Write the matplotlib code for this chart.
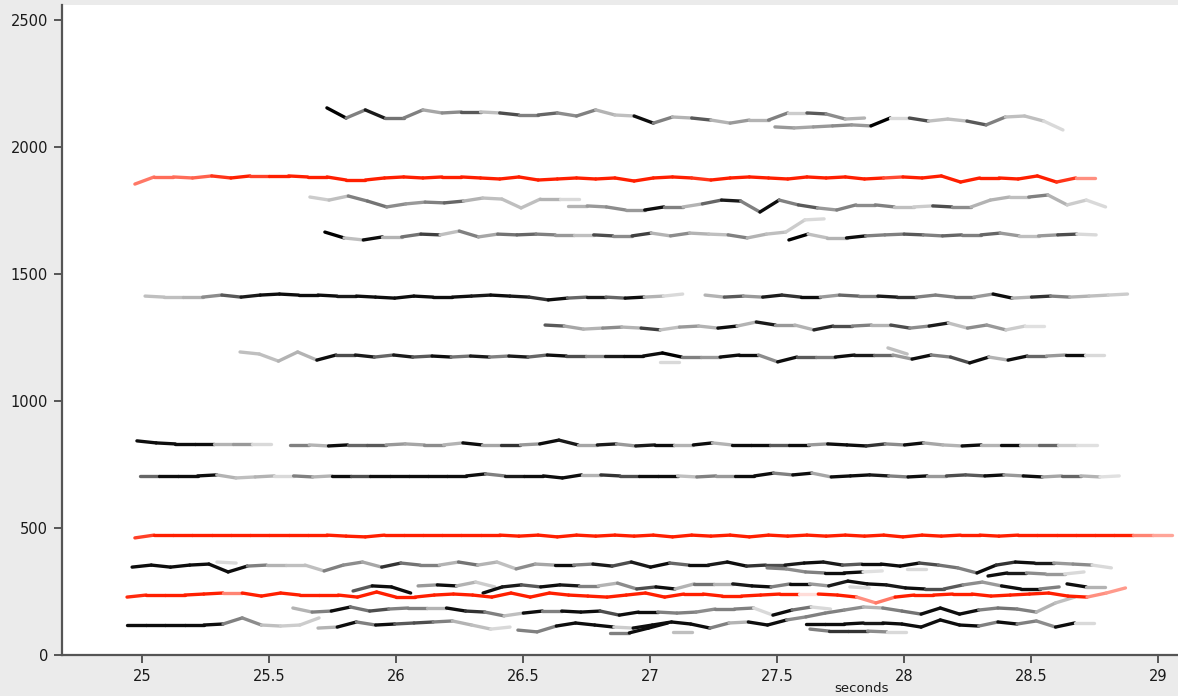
import matplotlib
matplotlib.use("Agg")
import matplotlib.pyplot as plt
from matplotlib.collections import LineCollection
import numpy as np

# ---------------- data ----------------
DT = 0.0756  # frame hop (seconds) between track points

x_ticks = [25, 25.5, 26, 26.5, 27, 27.5, 28, 28.5, 29]
x_tick_labels = ["25", "25.5", "26", "26.5", "27", "27.5", "28", "28.5", "29"]
y_ticks = [0, 500, 1000, 1500, 2000, 2500]
y_tick_labels = ["0", "500", "1000", "1500", "2000", "2500"]
x_label = "seconds"

# grey partial tracks: start time, frequency per frame (Hz), grey level per segment (0 = black)
a1_t0 = 25.728
a1_hz = [2154, 2114, 2146, 2114, 2114, 2146, 2134, 2138, 2138, 2134, 2126, 2126, 2134, 2122, 2146,
         2126, 2122, 2094, 2118, 2114, 2106, 2094, 2106, 2106, 2134, 2134, 2130, 2110, 2114]
a1_gray = [0.0, 0.5, 0.1, 0.45, 0.5, 0.65, 0.55, 0.35, 0.75, 0.3, 0.5, 0.4, 0.55, 0.5, 0.7,
           0.75, 0.05, 0.5, 0.7, 0.35, 0.7, 0.6, 0.7, 0.5, 0.8, 0.35, 0.55, 0.7]

a2_t0 = 27.492
a2_hz = [2079, 2075, 2079, 2083, 2087, 2083, 2114, 2114, 2102, 2110, 2102, 2087, 2118, 2122, 2102, 2067]
a2_gray = [0.6, 0.65, 0.6, 0.55, 0.6, 0.0, 0.85, 0.3, 0.75, 0.75, 0.35, 0.5, 0.75, 0.75, 0.85]

b1_t0 = 25.661
b1_hz = [1803, 1791, 1807, 1787, 1764, 1776, 1783, 1780, 1787, 1799, 1795, 1760, 1795, 1795, 1795]
b1_gray = [0.8, 0.75, 0.5, 0.45, 0.55, 0.6, 0.5, 0.4, 0.7, 0.75, 0.75, 0.75, 0.7, 0.85]

b2_t0 = 26.677
b2_hz = [1768, 1768, 1764, 1752, 1752, 1764, 1764, 1776, 1791, 1787, 1744, 1791, 1772, 1760, 1752,
         1772, 1772, 1764, 1764, 1768, 1764, 1764, 1791, 1803, 1803, 1811, 1772, 1791, 1764]
b2_gray = [0.7, 0.6, 0.55, 0.6, 0.05, 0.5, 0.7, 0.4, 0.1, 0.5, 0.05, 0.5, 0.35, 0.6, 0.5,
           0.55, 0.5, 0.75, 0.8, 0.3, 0.55, 0.7, 0.7, 0.75, 0.5, 0.7, 0.8, 0.85]

c1_t0 = 25.720
c1_hz = [1665, 1642, 1634, 1646, 1646, 1657, 1654, 1669, 1646, 1657, 1654, 1657, 1654, 1654,
         1654, 1650, 1650, 1661, 1650, 1661, 1657, 1654, 1642, 1657, 1665, 1713, 1717]
c1_gray = [0.0, 0.75, 0.05, 0.7, 0.45, 0.25, 0.75, 0.5, 0.65, 0.45, 0.4, 0.5, 0.6, 0.75, 0.3,
           0.55, 0.25, 0.7, 0.55, 0.7, 0.75, 0.5, 0.7, 0.75, 0.8, 0.85]

c2_t0 = 27.547
c2_hz = [1634, 1657, 1642, 1642, 1650, 1654, 1657, 1654, 1650, 1654, 1654, 1661, 1650, 1650, 1654, 1657, 1654]
c2_gray = [0.0, 0.75, 0.7, 0.05, 0.5, 0.5, 0.35, 0.5, 0.4, 0.5, 0.4, 0.6, 0.75, 0.6, 0.3, 0.85]

d1_t0 = 25.012
d1_hz = [1413, 1409, 1409, 1409, 1417, 1409, 1417, 1421, 1417, 1417, 1413, 1413, 1409, 1405, 1413,
         1409, 1409, 1413, 1417, 1413, 1409, 1398, 1405, 1409, 1409, 1405, 1409, 1413, 1421]
d1_gray = [0.75, 0.75, 0.7, 0.55, 0.35, 0.1, 0.05, 0.05, 0.05, 0.05, 0.1, 0.05, 0.05, 0.05,
           0.05, 0.05, 0.05, 0.1, 0.05, 0.1, 0.2, 0.05, 0.4, 0.1, 0.4, 0.05, 0.7, 0.85]

d2_t0 = 27.217
d2_hz = [1417, 1409, 1413, 1409, 1417, 1409, 1409, 1417, 1413, 1413, 1409, 1409, 1417, 1409, 1409,
         1421, 1405, 1409, 1413, 1409, 1413, 1417, 1421]
d2_gray = [0.7, 0.35, 0.6, 0.1, 0.2, 0.05, 0.6, 0.4, 0.5, 0.1, 0.2, 0.5, 0.5, 0.45, 0.6,
           0.05, 0.7, 0.2, 0.5, 0.7, 0.75, 0.8]

e_t0 = 26.587
e_hz = [1299, 1295, 1283, 1287, 1291, 1287, 1280, 1291, 1295, 1287, 1295, 1311, 1299, 1299,
        1280, 1295, 1295, 1299, 1299, 1287, 1295, 1307, 1287, 1299, 1280, 1295, 1295]
e_gray = [0.35, 0.65, 0.7, 0.55, 0.7, 0.25, 0.75, 0.6, 0.7, 0.05, 0.7, 0.1, 0.6, 0.7, 0.15,
          0.3, 0.5, 0.7, 0.3, 0.55, 0.1, 0.75, 0.55, 0.6, 0.8, 0.88]

f_t0 = 25.386
f_hz = [1193, 1185, 1157, 1193, 1161, 1181, 1181, 1173, 1181, 1173, 1177, 1173, 1177, 1173, 1177,
        1173, 1181, 1177, 1177, 1177, 1177, 1177, 1189, 1173, 1173, 1173, 1181, 1181, 1154, 1173,
        1173, 1173, 1181, 1181, 1181, 1165, 1181, 1173, 1150, 1173, 1161, 1177, 1177, 1181, 1181, 1181]
f_gray = [0.75, 0.75, 0.7, 0.7, 0.05, 0.3, 0.1, 0.4, 0.1, 0.35, 0.05, 0.45, 0.1, 0.5, 0.1,
          0.4, 0.05, 0.3, 0.55, 0.1, 0.05, 0.05, 0.0, 0.5, 0.6, 0.05, 0.05, 0.55, 0.05, 0.35,
          0.5, 0.05, 0.1, 0.4, 0.6, 0.05, 0.5, 0.3, 0.05, 0.7, 0.05, 0.4, 0.6, 0.05, 0.85]

g1_t0 = 24.980
g1_hz = [843, 835, 831, 831, 831, 831, 831, 831]
g1_gray = [0.05, 0.05, 0.05, 0.05, 0.7, 0.6, 0.85]

g2_t0 = 25.583
g2_hz = [827, 827, 823, 827, 827, 827, 831, 827, 827, 835, 827, 827, 827, 831, 846, 827, 827, 831,
         823, 827, 827, 827, 835, 827, 827, 827, 827, 827, 831, 827, 823, 831, 827, 835, 827, 823,
         827, 827, 827, 827, 827, 827, 827]
g2_gray = [0.5, 0.7, 0.05, 0.4, 0.35, 0.6, 0.65, 0.55, 0.7, 0.05, 0.65, 0.2, 0.6, 0.05, 0.1,
           0.65, 0.1, 0.6, 0.1, 0.05, 0.7, 0.05, 0.7, 0.05, 0.05, 0.35, 0.05, 0.6, 0.05, 0.05,
           0.2, 0.55, 0.05, 0.65, 0.7, 0.05, 0.7, 0.05, 0.7, 0.4, 0.8, 0.88]

h_t0 = 24.992
h_hz = [705, 705, 705, 705, 709, 697, 701, 705, 705, 701, 705, 705, 705, 705, 705, 705, 705, 705,
        713, 705, 705, 705, 697, 709, 709, 705, 705, 705, 705, 701, 705, 705, 705, 716, 709, 716,
        701, 705, 709, 705, 701, 705, 705, 709, 705, 709, 705, 701, 705, 705, 701, 705]
h_gray = [0.4, 0.05, 0.05, 0.05, 0.7, 0.75, 0.7, 0.85, 0.5, 0.7, 0.05, 0.3, 0.05, 0.05, 0.05,
          0.05, 0.05, 0.05, 0.5, 0.1, 0.05, 0.05, 0.05, 0.7, 0.2, 0.3, 0.05, 0.05, 0.75, 0.5,
          0.6, 0.05, 0.05, 0.5, 0.05, 0.65, 0.05, 0.05, 0.1, 0.5, 0.05, 0.6, 0.3, 0.35, 0.05,
          0.6, 0.05, 0.65, 0.4, 0.7, 0.88]

i_t0 = 24.961
i_hz = [346, 354, 346, 354, 358, 327, 350, 354, 354, 354, 331, 354, 366, 346, 362, 354, 354, 366,
        354, 366, 339, 358, 354, 354, 358, 350, 366, 346, 362, 354, 354, 366, 350, 354, 354, 362,
        366, 354, 358, 358, 350, 362, 354, 343, 323, 354, 366, 362, 362, 358, 354, 343]
i_gray = [0.05, 0.05, 0.05, 0.05, 0.05, 0.05, 0.5, 0.7, 0.75, 0.75, 0.5, 0.55, 0.65, 0.2, 0.45,
          0.5, 0.7, 0.45, 0.7, 0.75, 0.55, 0.65, 0.05, 0.5, 0.1, 0.3, 0.1, 0.05, 0.4, 0.05,
          0.1, 0.05, 0.2, 0.3, 0.1, 0.05, 0.1, 0.35, 0.05, 0.05, 0.05, 0.3, 0.45, 0.5, 0.05,
          0.2, 0.05, 0.1, 0.6, 0.55, 0.85]

i2_t0 = 28.331
i2_hz = [311, 323, 323, 319, 319, 327]
i2_gray = [0.05, 0.1, 0.55, 0.6, 0.85]

i3_t0 = 27.461
i3_hz = [343, 339, 327, 323, 323, 327, 331]
i3_gray = [0.5, 0.55, 0.5, 0.05, 0.05, 0.88]

ja_t0 = 25.831
ja_hz = [252, 272, 268, 244]
ja_gray = [0.35, 0.05, 0.05]

jb_t0 = 26.087
jb_hz = [272, 276, 272, 287, 268]
jb_gray = [0.6, 0.05, 0.7, 0.8]

jc_t0 = 26.343
jc_hz = [244, 268, 276, 268, 276, 272, 272, 283, 260, 268, 260, 280, 280, 280, 272, 268, 280, 280,
         272, 291, 280, 276, 264, 260, 260, 276, 287, 272, 260, 260, 268]
jc_gray = [0.05, 0.1, 0.35, 0.05, 0.1, 0.5, 0.7, 0.55, 0.3, 0.05, 0.7, 0.45, 0.7, 0.1, 0.05,
           0.5, 0.05, 0.6, 0.1, 0.05, 0.05, 0.1, 0.05, 0.3, 0.35, 0.55, 0.6, 0.05, 0.05, 0.5]

jd_t0 = 28.642
jd_hz = [280, 268, 268]
jd_gray = [0.05, 0.7]

k_t0 = 25.594
k_hz = [185, 169, 173, 189, 173, 181, 185, 185, 185, 173, 169, 154, 165, 173, 173, 169, 173, 157,
        169, 169, 165, 169, 181, 181, 185, 157, 177, 189, 181]
k_gray = [0.7, 0.5, 0.05, 0.45, 0.3, 0.5, 0.5, 0.7, 0.05, 0.2, 0.5, 0.75, 0.05, 0.5, 0.05,
          0.05, 0.3, 0.05, 0.05, 0.5, 0.5, 0.55, 0.5, 0.5, 0.85, 0.05, 0.45, 0.85]

l1_t0 = 24.941
l1_hz = [118, 118, 118, 118, 118, 122, 146, 118, 114, 118, 146]
l1_gray = [0.05, 0.05, 0.05, 0.05, 0.05, 0.5, 0.55, 0.75, 0.8, 0.8]

l2_t0 = 25.693
l2_hz = [106, 110, 130, 118, 122, 126, 130, 134, 118, 102, 110]
l2_gray = [0.7, 0.05, 0.5, 0.05, 0.35, 0.3, 0.5, 0.7, 0.75, 0.85]

l3_t0 = 26.480
l3_hz = [98, 91, 114, 126, 118, 110, 106, 118, 130, 122, 106, 126, 130, 118, 138, 150, 165, 177,
         189, 185, 173, 161, 185, 161, 177, 185, 181, 169, 205, 228]
l3_gray = [0.5, 0.5, 0.05, 0.05, 0.05, 0.8, 0.05, 0.05, 0.05, 0.05, 0.5, 0.7, 0.05, 0.05, 0.55,
           0.5, 0.5, 0.55, 0.7, 0.5, 0.45, 0.05, 0.05, 0.05, 0.5, 0.45, 0.5, 0.7, 0.75]

l4_t0 = 27.614
l4_hz = [122, 122, 122, 126, 126, 122, 110, 138, 118, 114, 130, 122, 134, 110, 126, 126]
l4_gray = [0.05, 0.05, 0.05, 0.1, 0.05, 0.05, 0.05, 0.05, 0.05, 0.5, 0.05, 0.5, 0.55, 0.05, 0.85]

l5_t0 = 27.630
l5_hz = [102, 94, 94, 94, 91, 91]
l5_gray = [0.5, 0.2, 0.2, 0.55, 0.85]

l6_t0 = 26.843
l6_hz = [87, 87, 106, 126]
l6_gray = [0.5, 0.05, 0.05]

# short faint fragments
p1_t0, p1_hz, p1_gray = 25.295, [366, 362], [0.85]
p2_t0, p2_hz, p2_gray = 27.937, [1209, 1185], [0.75]
p3_t0, p3_hz, p3_gray = 27.039, [1154, 1154], [0.85]
p4_t0, p4_hz, p4_gray = 28.012, [339, 339], [0.85]
p5_t0, p5_hz, p5_gray = 27.787, [268, 264], [0.85]
p7_t0, p7_hz, p7_gray = 27.091, [91, 91], [0.75]

# red (fundamental) tracks: start time, Hz per frame, colour strength per segment (1 = full red)
r1_t0 = 24.972
r1_hz = [1854, 1882, 1882, 1878, 1886, 1878, 1886, 1886, 1886, 1882, 1882, 1870, 1870, 1878, 1882,
         1878, 1882, 1882, 1878, 1874, 1882, 1870, 1874, 1878, 1874, 1878, 1866, 1878, 1882, 1878,
         1870, 1878, 1882, 1878, 1874, 1882, 1878, 1882, 1874, 1878, 1882, 1878, 1886, 1862, 1878,
         1878, 1874, 1886, 1862, 1878, 1878]
r1_str = [0.6, 0.65, 0.65, 0.7, 0.9, 1, 0.85, 1, 1, 1, 1, 1, 1, 1, 1, 1, 1, 1, 1, 1,
          1, 1, 1, 1, 1, 1, 1, 1, 1, 0.9, 1, 1, 1, 1, 1, 1, 1, 1, 1, 0.8,
          1, 1, 1, 1, 1, 1, 1, 1, 0.9, 0.5]

r2_t0 = 24.972
r2_hz = [461, 472, 472, 472, 472, 472, 472, 472, 472, 472, 472, 468, 465, 472, 472, 472, 472, 472,
         472, 472, 468, 472, 465, 472, 468, 472, 468, 472, 465, 472, 468, 472, 465, 472, 468, 472,
         468, 472, 468, 472, 465, 472, 468, 472, 472, 468, 472, 472, 472, 472, 472, 472, 472, 472, 472]
r2_str = [0.85, 1, 1, 1, 1, 1, 1, 1, 1, 1, 1, 1, 1, 1, 1, 1, 1, 1, 1, 1,
          1, 1, 1, 1, 1, 1, 1, 1, 1, 1, 1, 1, 1, 1, 1, 1, 1, 1, 1, 1,
          1, 1, 1, 1, 1, 1, 1, 1, 1, 1, 1, 1, 0.55, 0.4]

r3_t0 = 24.941
r3_hz = [228, 236, 236, 236, 240, 244, 244, 232, 244, 236, 236, 236, 228, 248, 228, 228, 236, 240,
         236, 228, 244, 228, 244, 236, 232, 228, 236, 244, 228, 240, 240, 232, 232, 236, 240, 240,
         240, 236, 228, 205, 228, 236, 236, 240, 240, 232, 236, 240, 244, 232, 228, 244, 264]
r3_str = [0.95, 1, 1, 1, 1, 0.55, 1, 1, 1, 1, 1, 1, 1, 1, 1, 1, 1, 1, 1, 1,
          1, 1, 1, 1, 1, 1, 1, 1, 1, 1, 1, 1, 1, 1, 1, 0.15, 1, 1, 0.5, 0.6,
          1, 1, 1, 1, 1, 1, 1, 1, 1, 1, 0.5, 0.45]

gray_tracks = [
    (a1_t0, a1_hz, a1_gray), (a2_t0, a2_hz, a2_gray),
    (b1_t0, b1_hz, b1_gray), (b2_t0, b2_hz, b2_gray),
    (c1_t0, c1_hz, c1_gray), (c2_t0, c2_hz, c2_gray),
    (d1_t0, d1_hz, d1_gray), (d2_t0, d2_hz, d2_gray),
    (e_t0, e_hz, e_gray), (f_t0, f_hz, f_gray),
    (g1_t0, g1_hz, g1_gray), (g2_t0, g2_hz, g2_gray),
    (h_t0, h_hz, h_gray),
    (i_t0, i_hz, i_gray), (i2_t0, i2_hz, i2_gray), (i3_t0, i3_hz, i3_gray),
    (ja_t0, ja_hz, ja_gray), (jb_t0, jb_hz, jb_gray), (jc_t0, jc_hz, jc_gray), (jd_t0, jd_hz, jd_gray),
    (k_t0, k_hz, k_gray),
    (l1_t0, l1_hz, l1_gray), (l2_t0, l2_hz, l2_gray), (l3_t0, l3_hz, l3_gray),
    (l4_t0, l4_hz, l4_gray), (l5_t0, l5_hz, l5_gray), (l6_t0, l6_hz, l6_gray),
    (p1_t0, p1_hz, p1_gray), (p2_t0, p2_hz, p2_gray), (p3_t0, p3_hz, p3_gray),
    (p4_t0, p4_hz, p4_gray), (p5_t0, p5_hz, p5_gray), (p7_t0, p7_hz, p7_gray),
]
red_tracks = [(r1_t0, r1_hz, r1_str), (r2_t0, r2_hz, r2_str), (r3_t0, r3_hz, r3_str)]

# ---------------- drawing ----------------
RED = np.array([1.0, 0.12, 0.0])
W, H = 1178, 696

fig = plt.figure(figsize=(W / 100, H / 100), dpi=100, facecolor="#ebebeb")
ax = fig.add_axes([62 / W, 41 / H, 1116 / W, 650 / H])
ax.set_facecolor("white")
ax.set_xlim(24.685, 29.079)
ax.set_ylim(0, 2559)


def segments(t0, hz):
    t = t0 + DT * np.arange(len(hz))
    pts = np.column_stack([t, np.asarray(hz, dtype=float)])
    return np.stack([pts[:-1], pts[1:]], axis=1)


for t0, hz, shade in gray_tracks:
    segs = segments(t0, hz)
    cols = [(g, g, g) for g in shade]
    ax.add_collection(LineCollection(segs, colors=cols, linewidths=2.4,
                                     capstyle="round", joinstyle="round", zorder=2))

for t0, hz, strength in red_tracks:
    segs = segments(t0, hz)
    cols = [tuple(1 - s * (1 - RED)) for s in strength]
    ax.add_collection(LineCollection(segs, colors=cols, linewidths=2.4,
                                     capstyle="round", joinstyle="round", zorder=3))

for side in ("top", "right"):
    ax.spines[side].set_visible(False)
for side in ("left", "bottom"):
    ax.spines[side].set_color("#555555")
    ax.spines[side].set_linewidth(1.6)

ax.set_xticks(x_ticks)
ax.set_xticklabels(x_tick_labels)
ax.set_yticks(y_ticks)
ax.set_yticklabels(y_tick_labels)
ax.tick_params(direction="out", length=6, width=1.4, color="#555555",
               labelsize=10.5, labelcolor="#1a1a1a", pad=4)

fig.text(862 / W, 1 - 688 / H, x_label, ha="center", va="center",
         fontsize=9.5, color="#1a1a1a")

fig.savefig("out.png", dpi=100, facecolor=fig.get_facecolor())
